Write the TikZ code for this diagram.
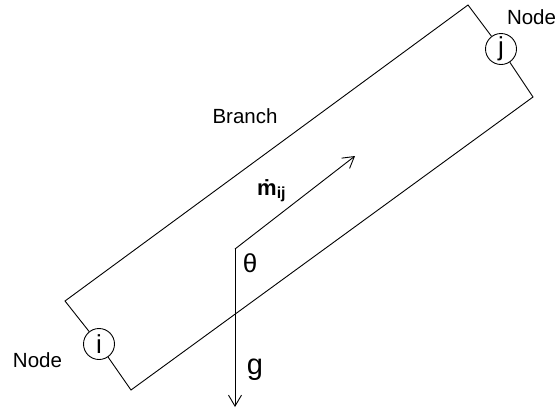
\documentclass[tikz,border=0pt]{standalone}
\usepackage{fontspec}
\setmainfont{Liberation Sans}
\usetikzlibrary{arrows.meta}
\begin{document}
\begin{tikzpicture}[x=1pt,y=-1pt,
  edge/.style={line width=0.9pt},
  vec/.style={line width=0.9pt,-{Straight Barb[length=11pt,width=13pt,line width=0.9pt]}},
  pt/.style={circle,draw,line width=0.9pt,fill=white,minimum size=31pt,inner sep=0pt,font=\fontsize{26}{28}\selectfont},
  lbl/.style={inner sep=0pt,font=\fontsize{20.5}{24}\selectfont}]
\useasboundingbox (0,0) rectangle (556,408);
\coordinate (A) at (65,301);
\coordinate (B) at (468,5);
\coordinate (C) at (533,97);
\coordinate (D) at (131,390);
\node[pt] (ni) at (99,344) {i};
\node[pt] (nj) at (501,49) {j};
\draw[edge] (ni) -- (A) -- (B) -- (nj);
\draw[edge] (nj) -- (C) -- (D) -- (ni);
\node[lbl] (nodeL) at (37.5,360) {Node};
\node[lbl] (nodeR) at (531.5,17) {Node};
\node[lbl] (branch) at (245,116) {Branch};
\coordinate (O) at (235,249);
\coordinate (E) at (355,156);
\coordinate (G) at (235,407);
\draw[vec] (O) -- (E);
\draw[vec] (O) -- (G);
\node[lbl,anchor=base west,font=\fontsize{22}{24}\selectfont] (mdot) at (257,195) {\textbf{ṁ}\textbf{\fontsize{16}{18}\selectfont\raisebox{-3pt}{ij}}};
\node[lbl,font=\fontsize{26}{28}\selectfont] (theta) at (250,263) {θ};
\node[lbl,font=\fontsize{29}{32}\selectfont] (g) at (255,370) {g};
\end{tikzpicture}
\end{document}
